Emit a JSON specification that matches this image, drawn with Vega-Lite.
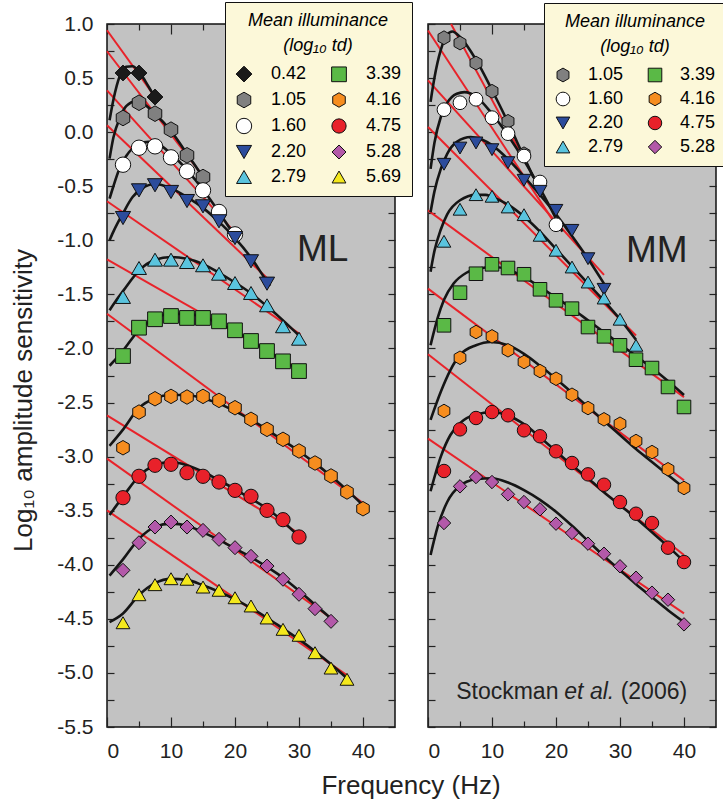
{
"$schema":"https://vega.github.io/schema/vega-lite/v6.json",
"padding":{"left":9,"top":0,"right":0,"bottom":0},
"config":{"font":"Liberation Sans","view":{"stroke":"#111","strokeWidth":1.5,"fill":"#c2c2c2"},"axis":{"grid":false,"domain":false,"tickColor":"#222","tickWidth":1.2,"labelColor":"#222","titleColor":"#222"}},
"datasets":{
"pts":[
{"p":"ML","lum":"0.42","f":2.5,"y":0.547},{"p":"ML","lum":"0.42","f":5,"y":0.547},{"p":"ML","lum":"0.42","f":7.5,"y":0.325},
{"p":"ML","lum":"1.05","f":2.5,"y":0.131},{"p":"ML","lum":"1.05","f":5,"y":0.272},{"p":"ML","lum":"1.05","f":7.5,"y":0.171},{"p":"ML","lum":"1.05","f":10,"y":0.023},{"p":"ML","lum":"1.05","f":12.5,"y":-0.214},{"p":"ML","lum":"1.05","f":15,"y":-0.415},
{"p":"ML","lum":"1.60","f":2.5,"y":-0.301},{"p":"ML","lum":"1.60","f":5,"y":-0.144},{"p":"ML","lum":"1.60","f":7.5,"y":-0.131},{"p":"ML","lum":"1.60","f":10,"y":-0.233},{"p":"ML","lum":"1.60","f":12.5,"y":-0.362},{"p":"ML","lum":"1.60","f":15,"y":-0.538},{"p":"ML","lum":"1.60","f":17.5,"y":-0.738},{"p":"ML","lum":"1.60","f":20,"y":-0.945},
{"p":"ML","lum":"2.20","f":2.5,"y":-0.794},{"p":"ML","lum":"2.20","f":5,"y":-0.538},{"p":"ML","lum":"2.20","f":7.5,"y":-0.491},{"p":"ML","lum":"2.20","f":10,"y":-0.553},{"p":"ML","lum":"2.20","f":12.5,"y":-0.637},{"p":"ML","lum":"2.20","f":15,"y":-0.686},{"p":"ML","lum":"2.20","f":17.5,"y":-0.824},{"p":"ML","lum":"2.20","f":20,"y":-0.979},{"p":"ML","lum":"2.20","f":22.5,"y":-1.194},{"p":"ML","lum":"2.20","f":25,"y":-1.401},
{"p":"ML","lum":"2.79","f":2.5,"y":-1.524},{"p":"ML","lum":"2.79","f":5,"y":-1.256},{"p":"ML","lum":"2.79","f":7.5,"y":-1.179},{"p":"ML","lum":"2.79","f":10,"y":-1.179},{"p":"ML","lum":"2.79","f":12.5,"y":-1.201},{"p":"ML","lum":"2.79","f":15,"y":-1.231},{"p":"ML","lum":"2.79","f":17.5,"y":-1.309},{"p":"ML","lum":"2.79","f":20,"y":-1.395},{"p":"ML","lum":"2.79","f":22.5,"y":-1.487},{"p":"ML","lum":"2.79","f":25,"y":-1.601},{"p":"ML","lum":"2.79","f":27.5,"y":-1.795},{"p":"ML","lum":"2.79","f":30,"y":-1.91},
{"p":"ML","lum":"3.39","f":2.5,"y":-2.07},{"p":"ML","lum":"3.39","f":5,"y":-1.808},{"p":"ML","lum":"3.39","f":7.5,"y":-1.73},{"p":"ML","lum":"3.39","f":10,"y":-1.7},{"p":"ML","lum":"3.39","f":12.5,"y":-1.718},{"p":"ML","lum":"3.39","f":15,"y":-1.718},{"p":"ML","lum":"3.39","f":17.5,"y":-1.749},{"p":"ML","lum":"3.39","f":20,"y":-1.832},{"p":"ML","lum":"3.39","f":22.5,"y":-1.931},{"p":"ML","lum":"3.39","f":25,"y":-2.024},{"p":"ML","lum":"3.39","f":27.5,"y":-2.119},{"p":"ML","lum":"3.39","f":30,"y":-2.209},
{"p":"ML","lum":"4.16","f":2.5,"y":-2.918},{"p":"ML","lum":"4.16","f":5,"y":-2.588},{"p":"ML","lum":"4.16","f":7.5,"y":-2.465},{"p":"ML","lum":"4.16","f":10,"y":-2.443},{"p":"ML","lum":"4.16","f":12.5,"y":-2.449},{"p":"ML","lum":"4.16","f":15,"y":-2.443},{"p":"ML","lum":"4.16","f":17.5,"y":-2.48},{"p":"ML","lum":"4.16","f":20,"y":-2.548},{"p":"ML","lum":"4.16","f":22.5,"y":-2.655},{"p":"ML","lum":"4.16","f":25,"y":-2.748},{"p":"ML","lum":"4.16","f":27.5,"y":-2.84},{"p":"ML","lum":"4.16","f":30,"y":-2.948},{"p":"ML","lum":"4.16","f":32.5,"y":-3.059},{"p":"ML","lum":"4.16","f":35,"y":-3.179},{"p":"ML","lum":"4.16","f":37.5,"y":-3.327},{"p":"ML","lum":"4.16","f":40,"y":-3.482},
{"p":"ML","lum":"4.75","f":2.5,"y":-3.38},{"p":"ML","lum":"4.75","f":5,"y":-3.182},{"p":"ML","lum":"4.75","f":7.5,"y":-3.08},{"p":"ML","lum":"4.75","f":10,"y":-3.071},{"p":"ML","lum":"4.75","f":12.5,"y":-3.149},{"p":"ML","lum":"4.75","f":15,"y":-3.182},{"p":"ML","lum":"4.75","f":17.5,"y":-3.235},{"p":"ML","lum":"4.75","f":20,"y":-3.312},{"p":"ML","lum":"4.75","f":22.5,"y":-3.367},{"p":"ML","lum":"4.75","f":25,"y":-3.497},{"p":"ML","lum":"4.75","f":27.5,"y":-3.583},{"p":"ML","lum":"4.75","f":30,"y":-3.743},
{"p":"ML","lum":"5.28","f":2.5,"y":-4.051},{"p":"ML","lum":"5.28","f":5,"y":-3.796},{"p":"ML","lum":"5.28","f":7.5,"y":-3.651},{"p":"ML","lum":"5.28","f":10,"y":-3.605},{"p":"ML","lum":"5.28","f":12.5,"y":-3.651},{"p":"ML","lum":"5.28","f":15,"y":-3.682},{"p":"ML","lum":"5.28","f":17.5,"y":-3.765},{"p":"ML","lum":"5.28","f":20,"y":-3.842},{"p":"ML","lum":"5.28","f":22.5,"y":-3.922},{"p":"ML","lum":"5.28","f":25,"y":-4.012},{"p":"ML","lum":"5.28","f":27.5,"y":-4.134},{"p":"ML","lum":"5.28","f":30,"y":-4.273},{"p":"ML","lum":"5.28","f":32.5,"y":-4.406},{"p":"ML","lum":"5.28","f":35,"y":-4.523},
{"p":"ML","lum":"5.69","f":2.5,"y":-4.536},{"p":"ML","lum":"5.69","f":5,"y":-4.277},{"p":"ML","lum":"5.69","f":7.5,"y":-4.184},{"p":"ML","lum":"5.69","f":10,"y":-4.129},{"p":"ML","lum":"5.69","f":12.5,"y":-4.134},{"p":"ML","lum":"5.69","f":15,"y":-4.206},{"p":"ML","lum":"5.69","f":17.5,"y":-4.236},{"p":"ML","lum":"5.69","f":20,"y":-4.305},{"p":"ML","lum":"5.69","f":22.5,"y":-4.381},{"p":"ML","lum":"5.69","f":25,"y":-4.492},{"p":"ML","lum":"5.69","f":27.5,"y":-4.597},{"p":"ML","lum":"5.69","f":30,"y":-4.652},{"p":"ML","lum":"5.69","f":32.5,"y":-4.813},{"p":"ML","lum":"5.69","f":35,"y":-4.955},{"p":"ML","lum":"5.69","f":37.5,"y":-5.059},
{"p":"MM","lum":"1.05","f":2.5,"y":0.873},{"p":"MM","lum":"1.05","f":5,"y":0.824},{"p":"MM","lum":"1.05","f":7.5,"y":0.639},{"p":"MM","lum":"1.05","f":10,"y":0.378},{"p":"MM","lum":"1.05","f":12.5,"y":0.1},{"p":"MM","lum":"1.05","f":15,"y":-0.2},
{"p":"MM","lum":"1.60","f":2.5,"y":0.208},{"p":"MM","lum":"1.60","f":5,"y":0.272},{"p":"MM","lum":"1.60","f":7.5,"y":0.304},{"p":"MM","lum":"1.60","f":10,"y":0.134},{"p":"MM","lum":"1.60","f":12.5,"y":-0.014},{"p":"MM","lum":"1.60","f":15,"y":-0.221},{"p":"MM","lum":"1.60","f":17.5,"y":-0.461},{"p":"MM","lum":"1.60","f":20,"y":-0.856},
{"p":"MM","lum":"2.20","f":2.5,"y":-0.297},{"p":"MM","lum":"2.20","f":5,"y":-0.147},{"p":"MM","lum":"2.20","f":7.5,"y":-0.1},{"p":"MM","lum":"2.20","f":10,"y":-0.162},{"p":"MM","lum":"2.20","f":12.5,"y":-0.282},{"p":"MM","lum":"2.20","f":15,"y":-0.445},{"p":"MM","lum":"2.20","f":17.5,"y":-0.547},{"p":"MM","lum":"2.20","f":20,"y":-0.723},{"p":"MM","lum":"2.20","f":22.5,"y":-0.908},{"p":"MM","lum":"2.20","f":25,"y":-1.17},{"p":"MM","lum":"2.20","f":27.5,"y":-1.453},
{"p":"MM","lum":"2.79","f":2.5,"y":-1.009},{"p":"MM","lum":"2.79","f":5,"y":-0.713},{"p":"MM","lum":"2.79","f":7.5,"y":-0.578},{"p":"MM","lum":"2.79","f":10,"y":-0.593},{"p":"MM","lum":"2.79","f":12.5,"y":-0.692},{"p":"MM","lum":"2.79","f":15,"y":-0.763},{"p":"MM","lum":"2.79","f":17.5,"y":-0.954},{"p":"MM","lum":"2.79","f":20,"y":-1.092},{"p":"MM","lum":"2.79","f":22.5,"y":-1.247},{"p":"MM","lum":"2.79","f":25,"y":-1.386},{"p":"MM","lum":"2.79","f":27.5,"y":-1.534},{"p":"MM","lum":"2.79","f":30,"y":-1.73},{"p":"MM","lum":"2.79","f":32.5,"y":-1.971},
{"p":"MM","lum":"3.39","f":2.5,"y":-1.786},{"p":"MM","lum":"3.39","f":5,"y":-1.484},{"p":"MM","lum":"3.39","f":7.5,"y":-1.309},{"p":"MM","lum":"3.39","f":10,"y":-1.222},{"p":"MM","lum":"3.39","f":12.5,"y":-1.256},{"p":"MM","lum":"3.39","f":15,"y":-1.314},{"p":"MM","lum":"3.39","f":17.5,"y":-1.453},{"p":"MM","lum":"3.39","f":20,"y":-1.555},{"p":"MM","lum":"3.39","f":22.5,"y":-1.632},{"p":"MM","lum":"3.39","f":25,"y":-1.802},{"p":"MM","lum":"3.39","f":27.5,"y":-1.888},{"p":"MM","lum":"3.39","f":30,"y":-1.971},{"p":"MM","lum":"3.39","f":32.5,"y":-2.104},{"p":"MM","lum":"3.39","f":35,"y":-2.181},{"p":"MM","lum":"3.39","f":37.5,"y":-2.356},{"p":"MM","lum":"3.39","f":40,"y":-2.541},
{"p":"MM","lum":"4.16","f":2.5,"y":-2.578},{"p":"MM","lum":"4.16","f":5,"y":-2.086},{"p":"MM","lum":"4.16","f":7.5,"y":-1.848},{"p":"MM","lum":"4.16","f":10,"y":-1.888},{"p":"MM","lum":"4.16","f":12.5,"y":-2.017},{"p":"MM","lum":"4.16","f":15,"y":-2.125},{"p":"MM","lum":"4.16","f":17.5,"y":-2.209},{"p":"MM","lum":"4.16","f":20,"y":-2.28},{"p":"MM","lum":"4.16","f":22.5,"y":-2.428},{"p":"MM","lum":"4.16","f":25,"y":-2.551},{"p":"MM","lum":"4.16","f":27.5,"y":-2.655},{"p":"MM","lum":"4.16","f":30,"y":-2.696},{"p":"MM","lum":"4.16","f":32.5,"y":-2.856},{"p":"MM","lum":"4.16","f":35,"y":-2.958},{"p":"MM","lum":"4.16","f":37.5,"y":-3.117},{"p":"MM","lum":"4.16","f":40,"y":-3.29},
{"p":"MM","lum":"4.75","f":2.5,"y":-3.133},{"p":"MM","lum":"4.75","f":5,"y":-2.748},{"p":"MM","lum":"4.75","f":7.5,"y":-2.643},{"p":"MM","lum":"4.75","f":10,"y":-2.588},{"p":"MM","lum":"4.75","f":12.5,"y":-2.618},{"p":"MM","lum":"4.75","f":15,"y":-2.757},{"p":"MM","lum":"4.75","f":17.5,"y":-2.812},{"p":"MM","lum":"4.75","f":20,"y":-2.951},{"p":"MM","lum":"4.75","f":22.5,"y":-3.059},{"p":"MM","lum":"4.75","f":25,"y":-3.164},{"p":"MM","lum":"4.75","f":27.5,"y":-3.26},{"p":"MM","lum":"4.75","f":30,"y":-3.42},{"p":"MM","lum":"4.75","f":32.5,"y":-3.528},{"p":"MM","lum":"4.75","f":35,"y":-3.614},{"p":"MM","lum":"4.75","f":37.5,"y":-3.842},{"p":"MM","lum":"4.75","f":40,"y":-3.975},
{"p":"MM","lum":"5.28","f":2.5,"y":-3.614},{"p":"MM","lum":"5.28","f":5,"y":-3.275},{"p":"MM","lum":"5.28","f":7.5,"y":-3.189},{"p":"MM","lum":"5.28","f":10,"y":-3.235},{"p":"MM","lum":"5.28","f":12.5,"y":-3.349},{"p":"MM","lum":"5.28","f":15,"y":-3.42},{"p":"MM","lum":"5.28","f":17.5,"y":-3.487},{"p":"MM","lum":"5.28","f":20,"y":-3.62},{"p":"MM","lum":"5.28","f":22.5,"y":-3.706},{"p":"MM","lum":"5.28","f":25,"y":-3.805},{"p":"MM","lum":"5.28","f":27.5,"y":-3.898},{"p":"MM","lum":"5.28","f":30,"y":-4.014},{"p":"MM","lum":"5.28","f":32.5,"y":-4.12},{"p":"MM","lum":"5.28","f":35,"y":-4.258},{"p":"MM","lum":"5.28","f":37.5,"y":-4.323},{"p":"MM","lum":"5.28","f":40,"y":-4.551}
],
"crv":[
{"p":"ML","lum":"0.42","f":0.4,"y":0.11},{"p":"ML","lum":"0.42","f":1,"y":0.3},{"p":"ML","lum":"0.42","f":2,"y":0.52},{"p":"ML","lum":"0.42","f":3,"y":0.605},{"p":"ML","lum":"0.42","f":4,"y":0.61},{"p":"ML","lum":"0.42","f":5,"y":0.56},{"p":"ML","lum":"0.42","f":6,"y":0.47},{"p":"ML","lum":"0.42","f":7,"y":0.37},{"p":"ML","lum":"0.42","f":7.7,"y":0.3},
{"p":"ML","lum":"1.05","f":0.4,"y":-0.245},{"p":"ML","lum":"1.05","f":1,"y":-0.05},{"p":"ML","lum":"1.05","f":2,"y":0.13},{"p":"ML","lum":"1.05","f":3,"y":0.24},{"p":"ML","lum":"1.05","f":4.5,"y":0.285},{"p":"ML","lum":"1.05","f":6,"y":0.25},{"p":"ML","lum":"1.05","f":7.5,"y":0.17},{"p":"ML","lum":"1.05","f":10,"y":0.01},{"p":"ML","lum":"1.05","f":12.5,"y":-0.2},{"p":"ML","lum":"1.05","f":15,"y":-0.42},{"p":"ML","lum":"1.05","f":15.5,"y":-0.47},
{"p":"ML","lum":"1.60","f":0.4,"y":-0.615},{"p":"ML","lum":"1.60","f":1,"y":-0.5},{"p":"ML","lum":"1.60","f":2,"y":-0.33},{"p":"ML","lum":"1.60","f":3,"y":-0.22},{"p":"ML","lum":"1.60","f":4,"y":-0.15},{"p":"ML","lum":"1.60","f":5,"y":-0.11},{"p":"ML","lum":"1.60","f":6.5,"y":-0.09},{"p":"ML","lum":"1.60","f":8,"y":-0.11},{"p":"ML","lum":"1.60","f":10,"y":-0.2},{"p":"ML","lum":"1.60","f":12.5,"y":-0.35},{"p":"ML","lum":"1.60","f":15,"y":-0.53},{"p":"ML","lum":"1.60","f":17.5,"y":-0.74},{"p":"ML","lum":"1.60","f":20,"y":-0.96},{"p":"ML","lum":"1.60","f":20.5,"y":-1.0},
{"p":"ML","lum":"2.20","f":0.4,"y":-1.0},{"p":"ML","lum":"2.20","f":1,"y":-0.92},{"p":"ML","lum":"2.20","f":2.5,"y":-0.75},{"p":"ML","lum":"2.20","f":4,"y":-0.6},{"p":"ML","lum":"2.20","f":5.5,"y":-0.52},{"p":"ML","lum":"2.20","f":7.5,"y":-0.48},{"p":"ML","lum":"2.20","f":10,"y":-0.52},{"p":"ML","lum":"2.20","f":12.5,"y":-0.6},{"p":"ML","lum":"2.20","f":15,"y":-0.7},{"p":"ML","lum":"2.20","f":17.5,"y":-0.83},{"p":"ML","lum":"2.20","f":20,"y":-0.98},{"p":"ML","lum":"2.20","f":22.5,"y":-1.16},{"p":"ML","lum":"2.20","f":25,"y":-1.38},{"p":"ML","lum":"2.20","f":25.5,"y":-1.42},
{"p":"ML","lum":"2.79","f":0.4,"y":-1.647},{"p":"ML","lum":"2.79","f":1.5,"y":-1.55},{"p":"ML","lum":"2.79","f":2.5,"y":-1.47},{"p":"ML","lum":"2.79","f":5,"y":-1.28},{"p":"ML","lum":"2.79","f":7.5,"y":-1.18},{"p":"ML","lum":"2.79","f":10,"y":-1.155},{"p":"ML","lum":"2.79","f":12.5,"y":-1.17},{"p":"ML","lum":"2.79","f":15,"y":-1.22},{"p":"ML","lum":"2.79","f":17.5,"y":-1.3},{"p":"ML","lum":"2.79","f":20,"y":-1.39},{"p":"ML","lum":"2.79","f":22.5,"y":-1.49},{"p":"ML","lum":"2.79","f":25,"y":-1.61},{"p":"ML","lum":"2.79","f":27.5,"y":-1.74},{"p":"ML","lum":"2.79","f":30,"y":-1.88},
{"p":"ML","lum":"3.39","f":0.4,"y":-2.16},{"p":"ML","lum":"3.39","f":1.5,"y":-2.09},{"p":"ML","lum":"3.39","f":2.5,"y":-2.02},{"p":"ML","lum":"3.39","f":5,"y":-1.83},{"p":"ML","lum":"3.39","f":7.5,"y":-1.72},{"p":"ML","lum":"3.39","f":10,"y":-1.68},{"p":"ML","lum":"3.39","f":12.5,"y":-1.68},{"p":"ML","lum":"3.39","f":15,"y":-1.71},{"p":"ML","lum":"3.39","f":17.5,"y":-1.77},{"p":"ML","lum":"3.39","f":20,"y":-1.84},{"p":"ML","lum":"3.39","f":22.5,"y":-1.93},{"p":"ML","lum":"3.39","f":25,"y":-2.02},{"p":"ML","lum":"3.39","f":27.5,"y":-2.11},{"p":"ML","lum":"3.39","f":30,"y":-2.2},
{"p":"ML","lum":"4.16","f":0.4,"y":-2.9},{"p":"ML","lum":"4.16","f":2.5,"y":-2.75},{"p":"ML","lum":"4.16","f":5,"y":-2.55},{"p":"ML","lum":"4.16","f":7.5,"y":-2.46},{"p":"ML","lum":"4.16","f":10,"y":-2.43},{"p":"ML","lum":"4.16","f":12.5,"y":-2.43},{"p":"ML","lum":"4.16","f":15,"y":-2.46},{"p":"ML","lum":"4.16","f":17.5,"y":-2.51},{"p":"ML","lum":"4.16","f":20,"y":-2.58},{"p":"ML","lum":"4.16","f":22.5,"y":-2.66},{"p":"ML","lum":"4.16","f":25,"y":-2.75},{"p":"ML","lum":"4.16","f":27.5,"y":-2.85},{"p":"ML","lum":"4.16","f":30,"y":-2.95},{"p":"ML","lum":"4.16","f":32.5,"y":-3.06},{"p":"ML","lum":"4.16","f":35,"y":-3.18},{"p":"ML","lum":"4.16","f":37.5,"y":-3.31},{"p":"ML","lum":"4.16","f":40,"y":-3.45},
{"p":"ML","lum":"4.75","f":0.4,"y":-3.54},{"p":"ML","lum":"4.75","f":2.5,"y":-3.37},{"p":"ML","lum":"4.75","f":5,"y":-3.18},{"p":"ML","lum":"4.75","f":7.5,"y":-3.08},{"p":"ML","lum":"4.75","f":10,"y":-3.05},{"p":"ML","lum":"4.75","f":12.5,"y":-3.08},{"p":"ML","lum":"4.75","f":15,"y":-3.14},{"p":"ML","lum":"4.75","f":17.5,"y":-3.22},{"p":"ML","lum":"4.75","f":20,"y":-3.3},{"p":"ML","lum":"4.75","f":22.5,"y":-3.39},{"p":"ML","lum":"4.75","f":25,"y":-3.48},{"p":"ML","lum":"4.75","f":27.5,"y":-3.6},{"p":"ML","lum":"4.75","f":30,"y":-3.74},
{"p":"ML","lum":"5.28","f":0.4,"y":-4.1},{"p":"ML","lum":"5.28","f":2.5,"y":-3.95},{"p":"ML","lum":"5.28","f":5,"y":-3.76},{"p":"ML","lum":"5.28","f":7.5,"y":-3.65},{"p":"ML","lum":"5.28","f":10,"y":-3.62},{"p":"ML","lum":"5.28","f":12.5,"y":-3.64},{"p":"ML","lum":"5.28","f":15,"y":-3.7},{"p":"ML","lum":"5.28","f":17.5,"y":-3.77},{"p":"ML","lum":"5.28","f":20,"y":-3.85},{"p":"ML","lum":"5.28","f":22.5,"y":-3.93},{"p":"ML","lum":"5.28","f":25,"y":-4.02},{"p":"ML","lum":"5.28","f":27.5,"y":-4.12},{"p":"ML","lum":"5.28","f":30,"y":-4.24},{"p":"ML","lum":"5.28","f":32.5,"y":-4.37},{"p":"ML","lum":"5.28","f":35,"y":-4.5},{"p":"ML","lum":"5.28","f":35.5,"y":-4.53},
{"p":"ML","lum":"5.69","f":0.4,"y":-4.53},{"p":"ML","lum":"5.69","f":2.5,"y":-4.45},{"p":"ML","lum":"5.69","f":5,"y":-4.28},{"p":"ML","lum":"5.69","f":7.5,"y":-4.17},{"p":"ML","lum":"5.69","f":10,"y":-4.13},{"p":"ML","lum":"5.69","f":12.5,"y":-4.14},{"p":"ML","lum":"5.69","f":15,"y":-4.19},{"p":"ML","lum":"5.69","f":17.5,"y":-4.25},{"p":"ML","lum":"5.69","f":20,"y":-4.32},{"p":"ML","lum":"5.69","f":22.5,"y":-4.4},{"p":"ML","lum":"5.69","f":25,"y":-4.49},{"p":"ML","lum":"5.69","f":27.5,"y":-4.59},{"p":"ML","lum":"5.69","f":30,"y":-4.69},{"p":"ML","lum":"5.69","f":32.5,"y":-4.8},{"p":"ML","lum":"5.69","f":35,"y":-4.92},{"p":"ML","lum":"5.69","f":37.5,"y":-5.05},
{"p":"MM","lum":"1.05","f":0.4,"y":0.28},{"p":"MM","lum":"1.05","f":1,"y":0.5},{"p":"MM","lum":"1.05","f":2,"y":0.76},{"p":"MM","lum":"1.05","f":3,"y":0.9},{"p":"MM","lum":"1.05","f":3.8,"y":0.93},{"p":"MM","lum":"1.05","f":5,"y":0.88},{"p":"MM","lum":"1.05","f":7.5,"y":0.67},{"p":"MM","lum":"1.05","f":10,"y":0.39},{"p":"MM","lum":"1.05","f":12.5,"y":0.09},{"p":"MM","lum":"1.05","f":15,"y":-0.23},{"p":"MM","lum":"1.05","f":16.5,"y":-0.42},
{"p":"MM","lum":"1.60","f":0.4,"y":-0.34},{"p":"MM","lum":"1.60","f":1,"y":-0.1},{"p":"MM","lum":"1.60","f":2,"y":0.14},{"p":"MM","lum":"1.60","f":3,"y":0.27},{"p":"MM","lum":"1.60","f":4.5,"y":0.355},{"p":"MM","lum":"1.60","f":5.7,"y":0.37},{"p":"MM","lum":"1.60","f":7.5,"y":0.33},{"p":"MM","lum":"1.60","f":10,"y":0.17},{"p":"MM","lum":"1.60","f":12.5,"y":-0.03},{"p":"MM","lum":"1.60","f":15,"y":-0.26},{"p":"MM","lum":"1.60","f":17.5,"y":-0.52},{"p":"MM","lum":"1.60","f":20,"y":-0.8},{"p":"MM","lum":"1.60","f":21,"y":-0.92},
{"p":"MM","lum":"2.20","f":0.4,"y":-0.74},{"p":"MM","lum":"2.20","f":1,"y":-0.55},{"p":"MM","lum":"2.20","f":2,"y":-0.34},{"p":"MM","lum":"2.20","f":3,"y":-0.2},{"p":"MM","lum":"2.20","f":4.5,"y":-0.09},{"p":"MM","lum":"2.20","f":6.7,"y":-0.045},{"p":"MM","lum":"2.20","f":8.5,"y":-0.07},{"p":"MM","lum":"2.20","f":10,"y":-0.12},{"p":"MM","lum":"2.20","f":12.5,"y":-0.25},{"p":"MM","lum":"2.20","f":15,"y":-0.41},{"p":"MM","lum":"2.20","f":17.5,"y":-0.58},{"p":"MM","lum":"2.20","f":20,"y":-0.76},{"p":"MM","lum":"2.20","f":22.5,"y":-0.96},{"p":"MM","lum":"2.20","f":25,"y":-1.17},{"p":"MM","lum":"2.20","f":27.5,"y":-1.4},
{"p":"MM","lum":"2.79","f":0.4,"y":-1.29},{"p":"MM","lum":"2.79","f":1,"y":-1.1},{"p":"MM","lum":"2.79","f":2,"y":-0.9},{"p":"MM","lum":"2.79","f":3,"y":-0.76},{"p":"MM","lum":"2.79","f":5,"y":-0.63},{"p":"MM","lum":"2.79","f":7.5,"y":-0.58},{"p":"MM","lum":"2.79","f":9,"y":-0.58},{"p":"MM","lum":"2.79","f":10,"y":-0.6},{"p":"MM","lum":"2.79","f":12.5,"y":-0.67},{"p":"MM","lum":"2.79","f":15,"y":-0.78},{"p":"MM","lum":"2.79","f":17.5,"y":-0.92},{"p":"MM","lum":"2.79","f":20,"y":-1.08},{"p":"MM","lum":"2.79","f":22.5,"y":-1.24},{"p":"MM","lum":"2.79","f":25,"y":-1.4},{"p":"MM","lum":"2.79","f":27.5,"y":-1.56},{"p":"MM","lum":"2.79","f":30,"y":-1.73},{"p":"MM","lum":"2.79","f":32.5,"y":-1.92},
{"p":"MM","lum":"3.39","f":0.4,"y":-1.97},{"p":"MM","lum":"3.39","f":1.5,"y":-1.72},{"p":"MM","lum":"3.39","f":2.5,"y":-1.55},{"p":"MM","lum":"3.39","f":4,"y":-1.4},{"p":"MM","lum":"3.39","f":6,"y":-1.3},{"p":"MM","lum":"3.39","f":8,"y":-1.26},{"p":"MM","lum":"3.39","f":10.4,"y":-1.247},{"p":"MM","lum":"3.39","f":12.5,"y":-1.27},{"p":"MM","lum":"3.39","f":15,"y":-1.34},{"p":"MM","lum":"3.39","f":17.5,"y":-1.43},{"p":"MM","lum":"3.39","f":20,"y":-1.53},{"p":"MM","lum":"3.39","f":22.5,"y":-1.63},{"p":"MM","lum":"3.39","f":25,"y":-1.74},{"p":"MM","lum":"3.39","f":27.5,"y":-1.85},{"p":"MM","lum":"3.39","f":30,"y":-1.96},{"p":"MM","lum":"3.39","f":32.5,"y":-2.07},{"p":"MM","lum":"3.39","f":35,"y":-2.18},{"p":"MM","lum":"3.39","f":37.5,"y":-2.3},{"p":"MM","lum":"3.39","f":40,"y":-2.43},
{"p":"MM","lum":"4.16","f":0.4,"y":-2.66},{"p":"MM","lum":"4.16","f":2,"y":-2.4},{"p":"MM","lum":"4.16","f":3.5,"y":-2.2},{"p":"MM","lum":"4.16","f":5,"y":-2.06},{"p":"MM","lum":"4.16","f":7.5,"y":-1.97},{"p":"MM","lum":"4.16","f":9.8,"y":-1.94},{"p":"MM","lum":"4.16","f":12.5,"y":-1.97},{"p":"MM","lum":"4.16","f":15,"y":-2.05},{"p":"MM","lum":"4.16","f":17.5,"y":-2.16},{"p":"MM","lum":"4.16","f":20,"y":-2.28},{"p":"MM","lum":"4.16","f":22.5,"y":-2.41},{"p":"MM","lum":"4.16","f":25,"y":-2.54},{"p":"MM","lum":"4.16","f":27.5,"y":-2.67},{"p":"MM","lum":"4.16","f":30,"y":-2.8},{"p":"MM","lum":"4.16","f":32.5,"y":-2.93},{"p":"MM","lum":"4.16","f":35,"y":-3.05},{"p":"MM","lum":"4.16","f":37.5,"y":-3.17},{"p":"MM","lum":"4.16","f":40,"y":-3.29},
{"p":"MM","lum":"4.75","f":0.4,"y":-3.32},{"p":"MM","lum":"4.75","f":2,"y":-3.0},{"p":"MM","lum":"4.75","f":3.5,"y":-2.8},{"p":"MM","lum":"4.75","f":5,"y":-2.69},{"p":"MM","lum":"4.75","f":7.5,"y":-2.61},{"p":"MM","lum":"4.75","f":10,"y":-2.59},{"p":"MM","lum":"4.75","f":12.5,"y":-2.62},{"p":"MM","lum":"4.75","f":15,"y":-2.7},{"p":"MM","lum":"4.75","f":17.5,"y":-2.82},{"p":"MM","lum":"4.75","f":20,"y":-2.95},{"p":"MM","lum":"4.75","f":22.5,"y":-3.08},{"p":"MM","lum":"4.75","f":25,"y":-3.2},{"p":"MM","lum":"4.75","f":27.5,"y":-3.33},{"p":"MM","lum":"4.75","f":30,"y":-3.45},{"p":"MM","lum":"4.75","f":32.5,"y":-3.57},{"p":"MM","lum":"4.75","f":35,"y":-3.7},{"p":"MM","lum":"4.75","f":37.5,"y":-3.83},{"p":"MM","lum":"4.75","f":40,"y":-3.97},
{"p":"MM","lum":"5.28","f":0.4,"y":-3.91},{"p":"MM","lum":"5.28","f":1.5,"y":-3.65},{"p":"MM","lum":"5.28","f":3,"y":-3.42},{"p":"MM","lum":"5.28","f":5,"y":-3.27},{"p":"MM","lum":"5.28","f":7.5,"y":-3.21},{"p":"MM","lum":"5.28","f":10,"y":-3.2},{"p":"MM","lum":"5.28","f":12.5,"y":-3.24},{"p":"MM","lum":"5.28","f":15,"y":-3.31},{"p":"MM","lum":"5.28","f":17.5,"y":-3.4},{"p":"MM","lum":"5.28","f":20,"y":-3.51},{"p":"MM","lum":"5.28","f":22.5,"y":-3.64},{"p":"MM","lum":"5.28","f":25,"y":-3.78},{"p":"MM","lum":"5.28","f":27.5,"y":-3.92},{"p":"MM","lum":"5.28","f":30,"y":-4.05},{"p":"MM","lum":"5.28","f":32.5,"y":-4.18},{"p":"MM","lum":"5.28","f":35,"y":-4.3},{"p":"MM","lum":"5.28","f":37.5,"y":-4.42},{"p":"MM","lum":"5.28","f":40,"y":-4.53}
],
"red":[
{"p":"ML","lum":"0.42","f":0,"y":0.942},{"p":"ML","lum":"0.42","f":7.7,"y":0.31},
{"p":"ML","lum":"1.05","f":0,"y":0.748},{"p":"ML","lum":"1.05","f":15.3,"y":-0.43},
{"p":"ML","lum":"1.60","f":0,"y":0.387},{"p":"ML","lum":"1.60","f":20.4,"y":-0.955},
{"p":"ML","lum":"2.20","f":0,"y":0.063},{"p":"ML","lum":"2.20","f":25.2,"y":-1.36},
{"p":"ML","lum":"2.79","f":0,"y":-0.639},{"p":"ML","lum":"2.79","f":30.2,"y":-1.87},
{"p":"ML","lum":"3.39","f":0,"y":-1.176},{"p":"ML","lum":"3.39","f":30,"y":-2.19},
{"p":"ML","lum":"4.16","f":0,"y":-1.679},{"p":"ML","lum":"4.16","f":40,"y":-3.43},
{"p":"ML","lum":"4.75","f":0,"y":-2.618},{"p":"ML","lum":"4.75","f":30,"y":-3.71},
{"p":"ML","lum":"5.28","f":0,"y":-3.019},{"p":"ML","lum":"5.28","f":35.2,"y":-4.5},
{"p":"ML","lum":"5.69","f":0,"y":-3.497},{"p":"ML","lum":"5.69","f":37.7,"y":-5.03},
{"p":"MM","lum":"1.05","f":3.6,"y":1.0},{"p":"MM","lum":"1.05","f":15,"y":-0.25},
{"p":"MM","lum":"1.60","f":0,"y":0.94},{"p":"MM","lum":"1.60","f":20,"y":-0.86},
{"p":"MM","lum":"2.20","f":0,"y":0.479},{"p":"MM","lum":"2.20","f":27.5,"y":-1.32},
{"p":"MM","lum":"2.79","f":0,"y":0.048},{"p":"MM","lum":"2.79","f":32.5,"y":-1.88},
{"p":"MM","lum":"3.39","f":0,"y":-0.723},{"p":"MM","lum":"3.39","f":40,"y":-2.45},
{"p":"MM","lum":"4.16","f":0,"y":-1.447},{"p":"MM","lum":"4.16","f":40,"y":-3.22},
{"p":"MM","lum":"4.75","f":0,"y":-2.054},{"p":"MM","lum":"4.75","f":40,"y":-3.91},
{"p":"MM","lum":"5.28","f":0,"y":-2.834},{"p":"MM","lum":"5.28","f":40,"y":-4.45}
]
},
"spacing":33,
"bounds":"flush",
"resolve":{"scale":{"fill":"independent","shape":"independent","size":"independent","x":"independent","y":"independent"},"legend":{"fill":"independent","shape":"independent","size":"independent"}},
"hconcat":[
{
"width":288,"height":703,
"resolve":{"axis":{"x":"independent","y":"independent"}},
"layer":[
{"data":{"name":"red"},"transform":[{"filter":"datum.p === 'ML'"}],
 "mark":{"type":"line","color":"#e8232a","strokeWidth":2},
 "encoding":{
  "x":{"field":"f","type":"quantitative","scale":{"domain":[0,45],"nice":false,"zero":false},"axis":{"orient":"top","values":[0,5,10,15,20,25,30,35,40],"labels":false,"title":null,"tickSize":{"condition":{"test":"datum.value % 10 === 0","value":-10},"value":-6}}},
  "y":{"field":"y","type":"quantitative","scale":{"domain":[-5.5,1.0],"nice":false,"zero":false},"axis":{"orient":"right","values":[-5.5,-5.25,-5,-4.75,-4.5,-4.25,-4,-3.75,-3.5,-3.25,-3,-2.75,-2.5,-2.25,-2,-1.75,-1.5,-1.25,-1,-0.75,-0.5,-0.25,0,0.25,0.5,0.75,1],"labels":false,"title":null,"tickSize":-7}},
  "detail":{"field":"lum"}}},
{"data":{"name":"crv"},"transform":[{"filter":"datum.p === 'ML'"}],
 "mark":{"type":"line","color":"#151515","strokeWidth":2.6,"interpolate":"monotone"},
 "encoding":{"x":{"field":"f","type":"quantitative","axis":null},"y":{"field":"y","type":"quantitative","axis":null},"detail":{"field":"lum"}}},
{"data":{"name":"pts"},"transform":[{"filter":"datum.p === 'ML'"}],
 "mark":{"type":"point","filled":true,"stroke":"#111","strokeWidth":1,"opacity":1},
 "encoding":{
  "x":{"field":"f","type":"quantitative","axis":{"orient":"bottom","values":[0,5,10,15,20,25,30,35,40],"labelExpr":"datum.value % 10 === 0 ? datum.label : ''","tickSize":{"condition":{"test":"datum.value % 10 === 0","value":-10},"value":-6},"labelPadding":23,"labelFontSize":21,"title":"Frequency (Hz)","titleFontSize":26,"titleFontWeight":"normal","titleX":303.5,"titleY":58,"titleBaseline":"middle"}},
  "y":{"field":"y","type":"quantitative","axis":{"orient":"left","values":[-5.5,-5.25,-5,-4.75,-4.5,-4.25,-4,-3.75,-3.5,-3.25,-3,-2.75,-2.5,-2.25,-2,-1.75,-1.5,-1.25,-1,-0.75,-0.5,-0.25,0,0.25,0.5,0.75,1],"labelExpr":"datum.value % 0.5 === 0 ? (datum.value < 0 ? '-' + format(-datum.value, '.1f') : format(datum.value, '.1f')) : ''","tickSize":-7,"labelPadding":21,"labelFontSize":21,"title":"Log₁₀ amplitude sensitivity","titleFontSize":26,"titleFontWeight":"normal","titleX":-84,"titleY":376,"titleBaseline":"middle","titleAlign":"center"}},
  "fill":{"field":"lum","type":"nominal","scale":{"domain":["0.42","1.05","1.60","2.20","2.79","3.39","4.16","4.75","5.28","5.69"],"range":["#1a1a1a","#808080","#ffffff","#2c4c9c","#5ac4de","#5ab946","#f68d1f","#e8212a","#b359a9","#f4e81c"]},
   "legend":{"title":["Mean illuminance","(log₁₀ td)"],"orient":"none","legendX":118,"legendY":-22,"columns":2,"fillColor":"#fcf8d9","strokeColor":"#111","padding":10,"titleFontSize":18,"titleFontStyle":"italic","titleFontWeight":"normal","titleLineHeight":25,"titleAnchor":"middle","titleAlign":"center","titlePadding":10,"labelFontSize":18,"labelOffset":18,"columnPadding":22,"rowPadding":6,"symbolStrokeColor":"#111","symbolStrokeWidth":1}},
  "shape":{"field":"lum","type":"nominal","scale":{"domain":["0.42","1.05","1.60","2.20","2.79","3.39","4.16","4.75","5.28","5.69"],"range":["diamond","M0,-1L0.866,-0.5L0.866,0.5L0,1L-0.866,0.5L-0.866,-0.5Z","circle","triangle-down","triangle-up","square","M0,-1L0.866,-0.5L0.866,0.5L0,1L-0.866,0.5L-0.866,-0.5Z","circle","diamond","triangle-up"]}},
  "size":{"field":"lum","type":"nominal","scale":{"domain":["0.42","1.05","1.60","2.20","2.79","3.39","4.16","4.75","5.28","5.69"],"range":[250,190,180,170,170,140,190,180,250,170]}}}},
{"data":{"values":[{"f":33.7,"y":-1.09,"t":"ML"}]},
 "mark":{"type":"text","fontSize":37,"color":"#222","align":"center","baseline":"middle"},
 "encoding":{"x":{"field":"f","type":"quantitative","axis":null},"y":{"field":"y","type":"quantitative","axis":null},"text":{"field":"t"}}}
]
},
{
"width":288,"height":703,
"resolve":{"axis":{"x":"independent","y":"independent"}},
"layer":[
{"data":{"name":"red"},"transform":[{"filter":"datum.p === 'MM'"}],
 "mark":{"type":"line","color":"#e8232a","strokeWidth":2},
 "encoding":{
  "x":{"field":"f","type":"quantitative","scale":{"domain":[0,45],"nice":false,"zero":false},"axis":{"orient":"top","values":[0,5,10,15,20,25,30,35,40],"labels":false,"title":null,"tickSize":{"condition":{"test":"datum.value % 10 === 0","value":-10},"value":-6}}},
  "y":{"field":"y","type":"quantitative","scale":{"domain":[-5.5,1.0],"nice":false,"zero":false},"axis":{"orient":"right","values":[-5.5,-5.25,-5,-4.75,-4.5,-4.25,-4,-3.75,-3.5,-3.25,-3,-2.75,-2.5,-2.25,-2,-1.75,-1.5,-1.25,-1,-0.75,-0.5,-0.25,0,0.25,0.5,0.75,1],"labels":false,"title":null,"tickSize":-7}},
  "detail":{"field":"lum"}}},
{"data":{"name":"crv"},"transform":[{"filter":"datum.p === 'MM'"}],
 "mark":{"type":"line","color":"#151515","strokeWidth":2.6,"interpolate":"monotone"},
 "encoding":{"x":{"field":"f","type":"quantitative","axis":null},"y":{"field":"y","type":"quantitative","axis":null},"detail":{"field":"lum"}}},
{"data":{"name":"pts"},"transform":[{"filter":"datum.p === 'MM'"}],
 "mark":{"type":"point","filled":true,"stroke":"#111","strokeWidth":1,"opacity":1},
 "encoding":{
  "x":{"field":"f","type":"quantitative","axis":{"orient":"bottom","values":[0,5,10,15,20,25,30,35,40],"labelExpr":"datum.value % 10 === 0 ? datum.label : ''","tickSize":{"condition":{"test":"datum.value % 10 === 0","value":-10},"value":-6},"labelPadding":23,"labelFontSize":21,"title":null}},
  "y":{"field":"y","type":"quantitative","axis":{"orient":"left","values":[-5.5,-5.25,-5,-4.75,-4.5,-4.25,-4,-3.75,-3.5,-3.25,-3,-2.75,-2.5,-2.25,-2,-1.75,-1.5,-1.25,-1,-0.75,-0.5,-0.25,0,0.25,0.5,0.75,1],"labels":false,"tickSize":-7,"title":null}},
  "fill":{"field":"lum","type":"nominal","scale":{"domain":["1.05","1.60","2.20","2.79","3.39","4.16","4.75","5.28"],"range":["#808080","#ffffff","#2c4c9c","#5ac4de","#5ab946","#f68d1f","#e8212a","#b359a9"]},
   "legend":{"title":["Mean illuminance","(log₁₀ td)"],"orient":"none","legendX":116,"legendY":-21,"columns":2,"fillColor":"#fcf8d9","strokeColor":"#111","padding":10,"titleFontSize":18,"titleFontStyle":"italic","titleFontWeight":"normal","titleLineHeight":25,"titleAnchor":"middle","titleAlign":"center","titlePadding":10,"labelFontSize":18,"labelOffset":16,"columnPadding":22,"rowPadding":6,"symbolStrokeColor":"#111","symbolStrokeWidth":1}},
  "shape":{"field":"lum","type":"nominal","scale":{"domain":["1.05","1.60","2.20","2.79","3.39","4.16","4.75","5.28"],"range":["M0,-1L0.866,-0.5L0.866,0.5L0,1L-0.866,0.5L-0.866,-0.5Z","circle","triangle-down","triangle-up","square","M0,-1L0.866,-0.5L0.866,0.5L0,1L-0.866,0.5L-0.866,-0.5Z","circle","diamond"]}},
  "size":{"field":"lum","type":"nominal","scale":{"domain":["1.05","1.60","2.20","2.79","3.39","4.16","4.75","5.28"],"range":[190,180,170,170,140,190,180,250]}}}},
{"data":{"values":[{"f":35.75,"y":-1.1,"t":"MM"}]},
 "mark":{"type":"text","fontSize":37,"color":"#222","align":"center","baseline":"middle"},
 "encoding":{"x":{"field":"f","type":"quantitative","axis":null},"y":{"field":"y","type":"quantitative","axis":null},"text":{"field":"t"}}},
{"data":{"values":[{"f":4.4,"y":-5.18,"t":"Stockman"},{"f":30.1,"y":-5.18,"t":"(2006)"}]},
 "mark":{"type":"text","fontSize":23,"color":"#222","align":"left","baseline":"middle"},
 "encoding":{"x":{"field":"f","type":"quantitative","axis":null},"y":{"field":"y","type":"quantitative","axis":null},"text":{"field":"t"}}},
{"data":{"values":[{"f":21.3,"y":-5.18,"t":"et al."}]},
 "mark":{"type":"text","fontSize":23,"fontStyle":"italic","color":"#222","align":"left","baseline":"middle"},
 "encoding":{"x":{"field":"f","type":"quantitative","axis":null},"y":{"field":"y","type":"quantitative","axis":null},"text":{"field":"t"}}}
]
}
]
}
